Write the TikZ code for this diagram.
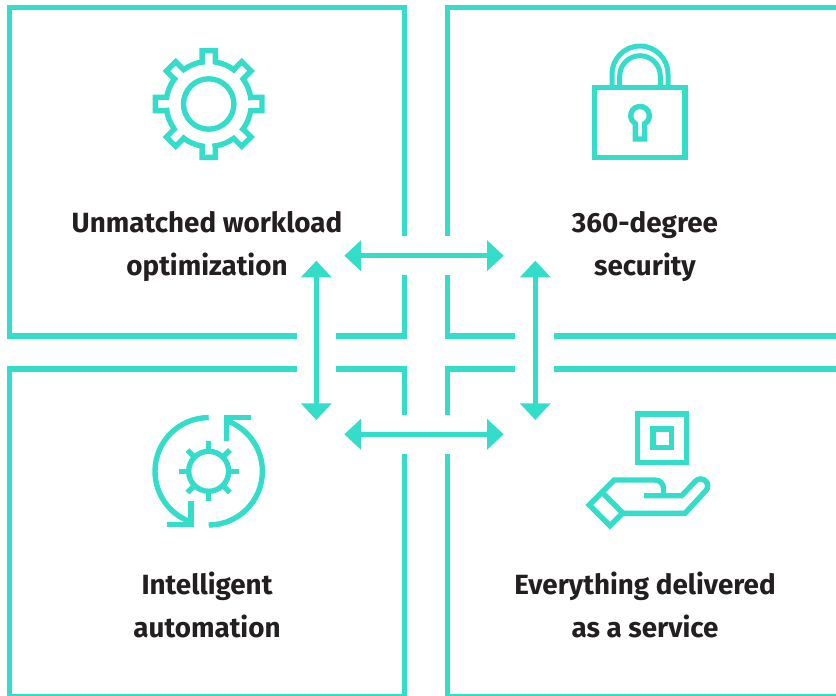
\documentclass[tikz,border=0pt]{standalone}
\usepackage{fontspec}
\setmainfont{Fira Sans}[BoldFont={Fira Sans Bold}]
\usetikzlibrary{arrows.meta,calc}
\definecolor{teal}{HTML}{34DDC9}
\definecolor{ink}{HTML}{231F20}
\tikzset{
  frame/.style={draw=teal,line width=5.3pt,line join=miter},
  icon/.style={draw=teal,line width=5.4pt,line join=miter},
  link/.style={draw=teal,line width=5.4pt,{Triangle[length=16.7pt,width=30pt]}-{Triangle[length=16.7pt,width=30pt]}},
  label/.style={font=\fontsize{27.8}{27.8}\selectfont\bfseries,text=ink,anchor=base,inner sep=0pt}
}
\begin{document}
\begin{tikzpicture}[x=1pt,y=-1pt]
\useasboundingbox (0,0) rectangle (836,696);
\clip (0,0) rectangle (836,696);
% frames
\draw[frame] (404.7,235.7) -- (404.7,7.7) -- (9.7,7.7) -- (9.7,336) -- (297,336);
\draw[frame] (336,336) -- (404.7,336) -- (404.7,275);
\draw[frame] (447.3,235.7) -- (447.3,7.7) -- (840,7.7);
\draw[frame] (447.3,275) -- (447.3,336) -- (515,336);
\draw[frame] (554,336) -- (840,336);
\draw[frame] (297,369) -- (9.7,369) -- (9.7,696.7) -- (404.7,696.7) -- (404.7,454);
\draw[frame] (336,369) -- (404.7,369) -- (404.7,415);
\draw[frame] (840,369) -- (554,369);
\draw[frame] (515,369) -- (447.3,369) -- (447.3,415);
\draw[frame] (447.3,454) -- (447.3,696.7) -- (840,696.7);
% arrows
\coordinate (tl) at (344.3,255.7); \coordinate (tr) at (503.7,255.7);
\coordinate (bl) at (344.3,434.3); \coordinate (br) at (503.7,434.3);
\coordinate (lt) at (316.3,260.7); \coordinate (lb) at (316.3,420);
\coordinate (rt) at (535.3,260.7); \coordinate (rb) at (535.3,420);
\draw[link] (tl) -- (tr);
\draw[link] (bl) -- (br);
\draw[link] (lt) -- (lb);
\draw[link] (rt) -- (rb);
% labels
\node[label] (a1) at (207,232) {Unmatched workload};
\node[label] (a2) at (207,275) {optimization};
\node[label] (b1) at (645,232) {360-degree};
\node[label] (b2) at (645,275) {security};
\node[label] (c1) at (207,594) {Intelligent};
\node[label] (c2) at (207,637) {automation};
\node[label] (d1) at (645,594) {Everything delivered};
\node[label] (d2) at (645,637) {as a service};
% gear icon
\draw[icon] (208.7,104) circle[radius=25.2];
\foreach \a in {0,45,...,315}{
  \begin{scope}[shift={(208.7,104)},rotate=\a]
    \draw[icon,line cap=rect] (42,-6.6) -- (53.3,-6.6) -- (53.3,6.6) -- (42,6.6)
      arc[start angle=8.93,end angle=36.07,radius=42.5];
  \end{scope}
}
% lock icon
\draw[icon] (594.6,87.5) rectangle (684.8,157.5);
\draw[icon,line width=5pt] (612,85) -- (612,74) arc[start angle=180,end angle=360,radius=28] -- (668,85);
\draw[icon,line width=5pt] (619.7,85) -- (619.7,76) arc[start angle=180,end angle=360,radius=20.3] -- (660.3,85);
\draw[icon] (644.7,123.75) arc[start angle=60,end angle=-240,radius=9.3] -- (635.3,139) -- (644.7,139) -- cycle;
% automation icon
\draw[icon] (208.7,417.6) arc[start angle=-90,end angle=-250,radius=53.7];
\draw[icon] (166.7,524.3) -- (191,524.3) -- (191,501);
\draw[icon] (208.7,525) arc[start angle=90,end angle=-70,radius=53.7];
\draw[icon] (250.7,417.7) -- (226.7,417.7) -- (226.7,441.3);
\draw[icon] (208.7,471.3) circle[radius=20];
\foreach \a in {0,45,...,315}{
  \draw[icon] ($(208.7,471.3)+(\a:20)$) -- ($(208.7,471.3)+(\a:30)$);
}
% hand icon
\draw[icon] (637.5,413.8) rectangle (686.2,462.5);
\draw[icon] (652.8,428.8) rectangle (671.5,447.5);
\draw[icon] (589.3,505) -- (602,492.3) -- (622.7,513) -- (610,525.7) -- cycle;
\draw[icon] (602,492.3) -- (614.3,480) -- (655,480) arc[start angle=-90,end angle=0,radius=8.5] -- (663.5,495.7);
\draw[icon] (644,495.7) -- (681.7,495.7) -- (695.7,481) arc[start angle=-135,end angle=45,radius=7] -- (685,513.3) -- (622.7,513.3);
\end{tikzpicture}
\end{document}
